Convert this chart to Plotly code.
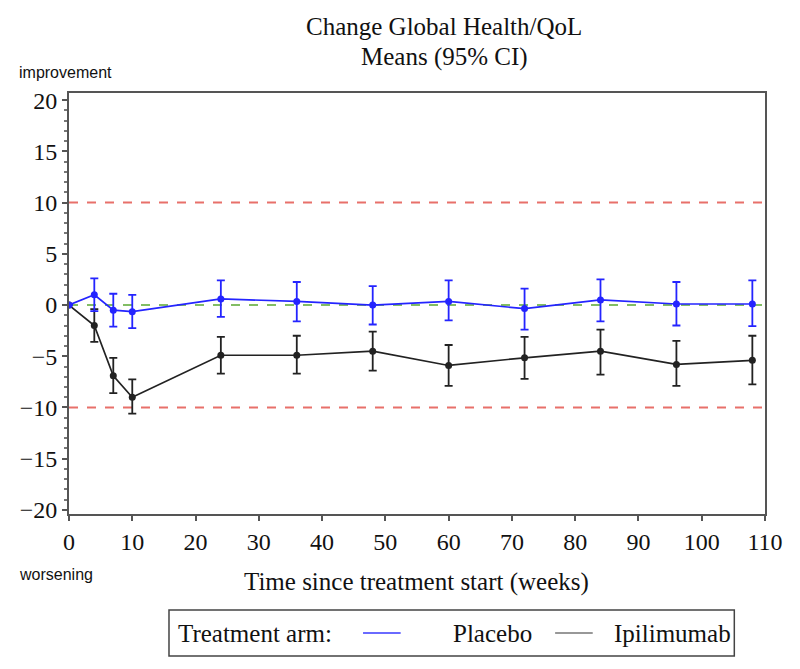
import plotly.graph_objects as go

weeks = [0, 4, 7, 10, 24, 36, 48, 60, 72, 84, 96, 108]

placebo_mean = [0, 1.0, -0.5, -0.65, 0.6, 0.35, 0.0, 0.35, -0.35, 0.5, 0.1, 0.1]
placebo_upper = [0, 2.6, 1.1, 1.0, 2.4, 2.25, 1.85, 2.4, 1.6, 2.5, 2.25, 2.4]
placebo_lower = [0, -0.6, -2.1, -2.25, -1.15, -1.6, -1.9, -1.5, -2.4, -1.6, -2.0, -2.05]

ipi_mean = [0, -2.0, -6.9, -9.0, -4.9, -4.9, -4.5, -5.9, -5.15, -4.5, -5.8, -5.4]
ipi_upper = [0, -0.4, -5.15, -7.25, -3.1, -3.0, -2.6, -3.9, -3.1, -2.4, -3.5, -3.0]
ipi_lower = [0, -3.6, -8.6, -10.6, -6.7, -6.7, -6.4, -7.9, -7.2, -6.8, -7.9, -7.75]

x_ticks = list(range(0, 111, 10))
y_ticks = list(range(-20, 21, 5))
ref_lines = [10, -10]

series_names = ["Placebo", "Ipilimumab"]
legend_title = "Treatment arm:"

BLUE = "#2424ff"
BLACK = "#222222"
SERIF = "Liberation Serif"
SANS = "Liberation Sans"

fig = go.Figure()

for v in ref_lines:
    fig.add_hline(y=v, line=dict(color="#e8706a", width=2, dash="dash"), layer="below")
fig.add_hline(y=0, line=dict(color="#5aa832", width=1.5, dash="dash"), layer="below")


def add_series(mean, upper, lower, color, name):
    plus = [u - m for u, m in zip(upper, mean)]
    minus = [m - l for m, l in zip(mean, lower)]
    fig.add_trace(go.Scatter(
        x=weeks, y=mean, mode="lines+markers", name=name,
        line=dict(color=color, width=1.7),
        marker=dict(color=color, size=7),
        error_y=dict(type="data", symmetric=False, array=plus, arrayminus=minus,
                     color=color, thickness=1.8, width=4),
        showlegend=False,
    ))


add_series(ipi_mean, ipi_upper, ipi_lower, BLACK, series_names[1])
add_series(placebo_mean, placebo_upper, placebo_lower, BLUE, series_names[0])

# page body has an 8px margin; size the figure so it ends at the window edge
OFF = 8
W, H = 800 - OFF, 669 - OFF
L, T = 62 - OFF, 93 - OFF
R = W - (765 - OFF)
B = H - (514 - OFF)
pw, ph = W - L - R, H - T - B


def px(xp):
    return (xp - OFF - L) / pw


def py(yp):
    return (H - B - (yp - OFF)) / ph


fig.update_layout(
    width=W, height=H,
    margin=dict(l=L, r=R, t=T, b=B),
    paper_bgcolor="white", plot_bgcolor="white",
    font=dict(family=SERIF, size=18, color="#111111"),
    showlegend=False,
)

fig.update_xaxes(
    range=[0, 110], tickmode="array", tickvals=x_ticks,
    showgrid=False, zeroline=False,
    showline=True, linecolor="#555555", linewidth=1.8, mirror=True,
    ticks="outside", ticklen=5, tickcolor="#555555", tickwidth=1.5,
    tickfont=dict(family=SERIF, size=24),
)
fig.update_yaxes(
    range=[-20.4, 20.7], tickmode="array", tickvals=y_ticks,
    showgrid=False, zeroline=False,
    showline=True, linecolor="#555555", linewidth=1.8, mirror=True,
    ticks="outside", ticklen=5, tickcolor="#555555", tickwidth=1.5,
    tickfont=dict(family=SERIF, size=24),
    minor=dict(dtick=1, ticks="outside", ticklen=3, tickcolor="#777777", showgrid=False),
)

fig.add_annotation(xref="paper", yref="paper", x=px(441), y=py(27),
                   text="Change Global Health/QoL", showarrow=False,
                   font=dict(family=SERIF, size=25), xanchor="center", yanchor="middle")
fig.add_annotation(xref="paper", yref="paper", x=px(441), y=py(57),
                   text="Means (95% CI)", showarrow=False,
                   font=dict(family=SERIF, size=25), xanchor="center", yanchor="middle")
fig.add_annotation(xref="paper", yref="paper", x=px(9), y=py(72),
                   text="improvement", showarrow=False,
                   font=dict(family=SANS, size=16), xanchor="left", yanchor="middle")
fig.add_annotation(xref="paper", yref="paper", x=px(9), y=py(574),
                   text="worsening", showarrow=False,
                   font=dict(family=SANS, size=16), xanchor="left", yanchor="middle")
fig.add_annotation(xref="paper", yref="paper", x=px(413), y=py(582),
                   text="Time since treatment start (weeks)", showarrow=False,
                   font=dict(family=SERIF, size=25), xanchor="center", yanchor="middle")

fig.add_shape(type="rect", xref="paper", yref="paper",
              x0=px(163), x1=px(734), y0=py(656), y1=py(610),
              line=dict(color="#444444", width=1.5), fillcolor="white")
ly = py(633)
fig.add_annotation(xref="paper", yref="paper", x=px(170), y=ly, text=legend_title,
                   showarrow=False, font=dict(family=SERIF, size=25),
                   xanchor="left", yanchor="middle")
fig.add_shape(type="line", xref="paper", yref="paper", x0=px(359), x1=px(397), y0=ly, y1=ly,
              line=dict(color="#6a6aff", width=2))
fig.add_annotation(xref="paper", yref="paper", x=px(448), y=ly, text=series_names[0],
                   showarrow=False, font=dict(family=SERIF, size=25),
                   xanchor="left", yanchor="middle")
fig.add_shape(type="line", xref="paper", yref="paper", x0=px(553), x1=px(591), y0=ly, y1=ly,
              line=dict(color="#333333", width=1.2))
fig.add_annotation(xref="paper", yref="paper", x=px(610), y=ly, text=series_names[1],
                   showarrow=False, font=dict(family=SERIF, size=25),
                   xanchor="left", yanchor="middle")

fig.write_html("out.html")
